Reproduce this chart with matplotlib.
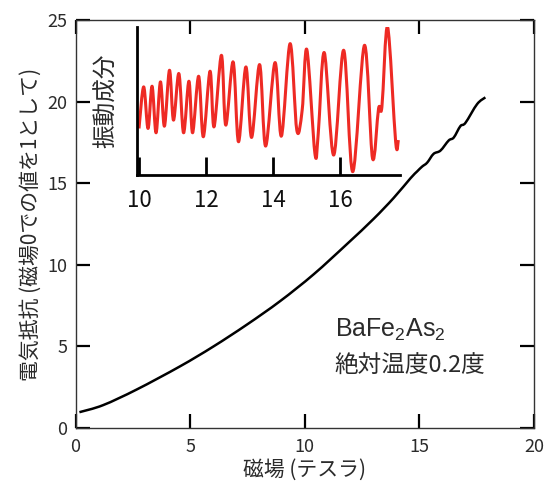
import matplotlib
matplotlib.use('Agg')
import matplotlib.pyplot as plt
from matplotlib.path import Path
from matplotlib.patches import PathPatch

plt.rcParams['font.family'] = ['Noto Sans CJK JP', 'DejaVu Sans']
plt.rcParams['mathtext.fontset'] = 'custom'
plt.rcParams['mathtext.rm'] = 'Liberation Sans'

# 主曲線: 磁場 (T) と電気抵抗 (磁場0で1)
campo = [0.17, 1.2, 2.67, 4.56, 6.02, 7.48, 8.93, 10.39, 11.84, 13.0, 13.88, 14.61,
         14.90, 15.12, 15.34, 15.62, 15.92, 16.28, 16.50, 16.79, 17.01, 17.52, 17.88]
resist = [0.97, 1.40, 2.36, 3.78, 5.0, 6.34, 7.78, 9.42, 11.27, 12.81, 14.1, 15.3,
          15.72, 16.02, 16.26, 16.80, 17.0, 17.62, 17.80, 18.50, 18.70, 19.85, 20.26]

# 挿入図: 振動成分 (任意単位)
campo_osc = [10.00, 10.14, 10.27, 10.39, 10.51, 10.64, 10.76, 10.91, 11.03, 11.19, 11.33,
             11.49, 11.60, 11.78, 11.92, 12.12, 12.24, 12.46, 12.59, 12.81, 12.97, 13.19,
             13.36, 13.60, 13.78, 14.06, 14.25, 14.51, 14.71, 14.87, 15.01, 15.25, 15.35,
             15.53, 15.81, 16.11, 16.38, 16.73, 16.97, 17.15, 17.25, 17.42, 17.66, 17.74]
osc = [14.0, 26.5, 14.0, 26.7, 12.7, 28.0, 14.7, 31.5, 16.5, 30.5, 12.7,
       28.2, 12.7, 29.7, 11.5, 31.2, 14.5, 36.0, 15.0, 34.0, 10.0, 32.5,
       11.3, 33.2, 8.7, 33.8, 11.7, 39.5, 13.5, 19.5, 37.7, 6.5, 12.5,
       36.8, 6.0, 37.5, 1.0, 39.0, 5.0, 20.0, 20.5, 44.5, 10.0, 10.5]

x_ticks = [0, 5, 10, 15, 20]
y_ticks = [0, 5, 10, 15, 20, 25]
x_ticks_ins = [10, 12, 14, 16]

texto = '#2b2b2b'


def curva_suave(xs, ys):
    # trazo suave (Catmull-Rom como Bezier) que pasa por todos los puntos leidos
    verts = [(xs[0], ys[0])]
    codes = [Path.MOVETO]
    n = len(xs)
    for i in range(n - 1):
        x0, y0 = xs[max(i - 1, 0)], ys[max(i - 1, 0)]
        x1, y1 = xs[i], ys[i]
        x2, y2 = xs[i + 1], ys[i + 1]
        x3, y3 = xs[min(i + 2, n - 1)], ys[min(i + 2, n - 1)]
        verts += [(x1 + (x2 - x0) / 6, y1 + (y2 - y0) / 6),
                  (x2 - (x3 - x1) / 6, y2 - (y3 - y1) / 6),
                  (x2, y2)]
        codes += [Path.CURVE4] * 3
    return Path(verts, codes)


fig = plt.figure(figsize=(5.44, 4.86), dpi=100)
ax = fig.add_axes([0.1388, 0.1193, 0.8428, 0.8395])
ax.add_patch(PathPatch(curva_suave(campo, resist), facecolor='none',
                       edgecolor='black', lw=1.8, joinstyle='round'))
ax.set_xlim(0, 20)
ax.set_ylim(0, 25)
ax.set_xticks(x_ticks)
ax.set_yticks(y_ticks)
ax.tick_params(direction='in', length=10, width=1.6, top=True, right=True,
               labelsize=13, labelcolor=texto, pad=6)
ax.tick_params(axis='x', pad=7)
for s in ax.spines.values():
    s.set_linewidth(1.0)
    s.set_color('#333333')
ax.set_xlabel('磁場 (テスラ)', fontsize=15, color=texto, labelpad=2)
ax.set_ylabel('電気抵抗 (磁場0での値を1として)', fontsize=15, color=texto, labelpad=4)

ax.text(11.3, 6.0, 'BaFe$_2$As$_2$', fontsize=18, color=texto, va='center',
        family=['Liberation Sans', 'DejaVu Sans'])
ax.text(11.3, 3.8, '絶対温度0.2度', fontsize=17, color=texto, va='center')

ins = fig.add_axes([0.2518, 0.6399, 0.4835, 0.3045])
ins.patch.set_alpha(0)
ins.add_patch(PathPatch(curva_suave(campo_osc, osc), facecolor='none',
                        edgecolor='#ee2a24', lw=2.2, joinstyle='round'))
ins.set_xlim(9.94, 17.79)
ins.set_ylim(0, 44.5)
ins.set_xticks(x_ticks_ins)
ins.set_yticks([])
ins.spines['top'].set_visible(False)
ins.spines['right'].set_visible(False)
ins.spines['left'].set_linewidth(2)
ins.spines['bottom'].set_linewidth(2)
ins.tick_params(axis='x', direction='in', length=13, width=2, labelsize=16,
                labelcolor='#111111', pad=10)
ins.set_ylabel('振動成分', fontsize=17, color=texto, labelpad=14)

fig.savefig('out.png', dpi=100)
